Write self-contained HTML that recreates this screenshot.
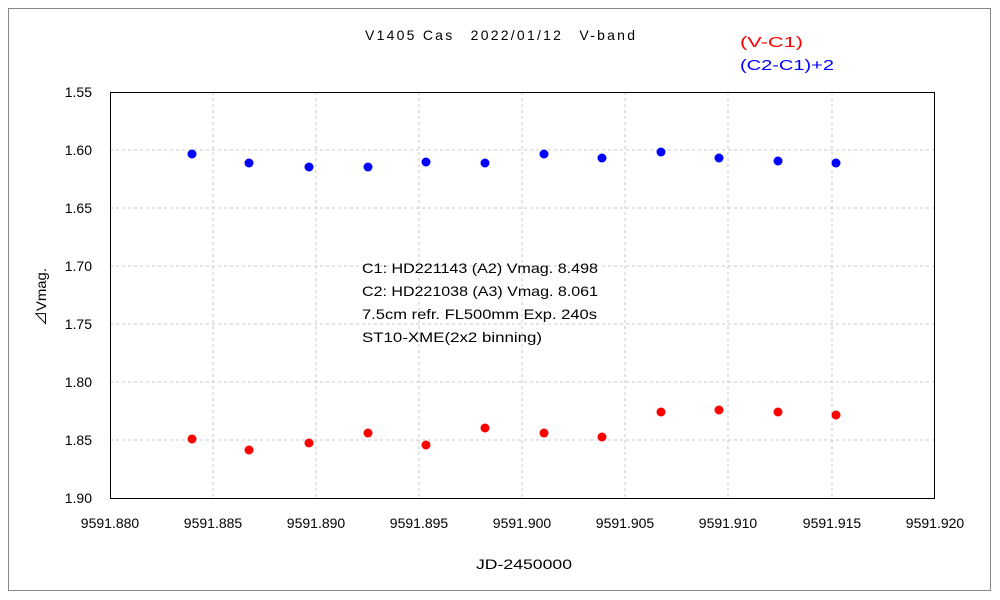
<!DOCTYPE html>
<html><head><meta charset="utf-8"><style>
body{margin:0;background:#fff;}
svg{display:block;font-family:"Liberation Sans","Noto Sans CJK JP",sans-serif;}
</style></head><body>
<svg width="1000" height="600" xmlns="http://www.w3.org/2000/svg">
<rect x="0" y="0" width="1000" height="600" fill="#fff"/>
<rect x="8.5" y="8.5" width="982" height="582" fill="none" stroke="#888" stroke-width="1"/>
<g stroke="#c8c8c8" stroke-dasharray="3,3" stroke-width="1">
<line x1="110" y1="150" x2="935" y2="150"/>
<line x1="110" y1="208" x2="935" y2="208"/>
<line x1="110" y1="266" x2="935" y2="266"/>
<line x1="110" y1="324" x2="935" y2="324"/>
<line x1="110" y1="382" x2="935" y2="382"/>
<line x1="110" y1="440" x2="935" y2="440"/>
<line x1="213" y1="92" x2="213" y2="498"/>
<line x1="316" y1="92" x2="316" y2="498"/>
<line x1="419" y1="92" x2="419" y2="498"/>
<line x1="522" y1="92" x2="522" y2="498"/>
<line x1="625" y1="92" x2="625" y2="498"/>
<line x1="728" y1="92" x2="728" y2="498"/>
<line x1="832" y1="92" x2="832" y2="498"/>
</g>
<rect x="110.5" y="92.5" width="824" height="406" fill="none" stroke="#000" stroke-width="1"/>
<g font-size="14" fill="#000" text-anchor="end">
<text x="92" y="97">1.55</text><text x="92" y="155">1.60</text><text x="92" y="213">1.65</text>
<text x="92" y="271">1.70</text><text x="92" y="329">1.75</text><text x="92" y="387">1.80</text>
<text x="92" y="445">1.85</text><text x="92" y="503">1.90</text>
</g>
<g font-size="14" fill="#000" text-anchor="middle">
<text x="110" y="528">9591.880</text><text x="213" y="528">9591.885</text><text x="316" y="528">9591.890</text>
<text x="419" y="528">9591.895</text><text x="522" y="528">9591.900</text><text x="625" y="528">9591.905</text>
<text x="728" y="528">9591.910</text><text x="832" y="528">9591.915</text><text x="935" y="528">9591.920</text>
</g>
<text x="476" y="569" font-size="14" textLength="96" lengthAdjust="spacingAndGlyphs">JD-2450000</text>
<text x="365" y="40" font-size="14" textLength="270" lengthAdjust="spacing">V1405 Cas　2022/01/12　V-band</text>
<text x="46" y="297" font-size="14" text-anchor="middle" transform="rotate(-90 46 297)" textLength="58" lengthAdjust="spacingAndGlyphs">⊿Vmag.</text>
<text x="740" y="47" font-size="15" fill="#f00" textLength="63" lengthAdjust="spacingAndGlyphs">(V-C1)</text>
<text x="740" y="70" font-size="15" fill="#00f" textLength="94" lengthAdjust="spacingAndGlyphs">(C2-C1)+2</text>
<g font-size="14" fill="#000">
<text x="362" y="273" textLength="236" lengthAdjust="spacingAndGlyphs">C1: HD221143 (A2) Vmag. 8.498</text>
<text x="362" y="296" textLength="236" lengthAdjust="spacingAndGlyphs">C2: HD221038 (A3) Vmag. 8.061</text>
<text x="362" y="319" textLength="235" lengthAdjust="spacingAndGlyphs">7.5cm refr. FL500mm Exp. 240s</text>
<text x="362" y="342" textLength="180" lengthAdjust="spacingAndGlyphs">ST10-XME(2x2 binning)</text>
</g>
<g fill="#00f">
<circle cx="192" cy="154" r="4.5"/><circle cx="249" cy="163" r="4.5"/><circle cx="309" cy="167" r="4.5"/>
<circle cx="368" cy="167" r="4.5"/><circle cx="426" cy="162" r="4.5"/><circle cx="485" cy="163" r="4.5"/>
<circle cx="544" cy="154" r="4.5"/><circle cx="602" cy="158" r="4.5"/><circle cx="661" cy="152" r="4.5"/>
<circle cx="719" cy="158" r="4.5"/><circle cx="778" cy="161" r="4.5"/><circle cx="836" cy="163" r="4.5"/>
</g>
<g fill="#f00">
<circle cx="192" cy="439" r="4.5"/><circle cx="249" cy="450" r="4.5"/><circle cx="309" cy="443" r="4.5"/>
<circle cx="368" cy="433" r="4.5"/><circle cx="426" cy="445" r="4.5"/><circle cx="485" cy="428" r="4.5"/>
<circle cx="544" cy="433" r="4.5"/><circle cx="602" cy="437" r="4.5"/><circle cx="661" cy="412" r="4.5"/>
<circle cx="719" cy="410" r="4.5"/><circle cx="778" cy="412" r="4.5"/><circle cx="836" cy="415" r="4.5"/>
</g>
</svg>
</body></html>
